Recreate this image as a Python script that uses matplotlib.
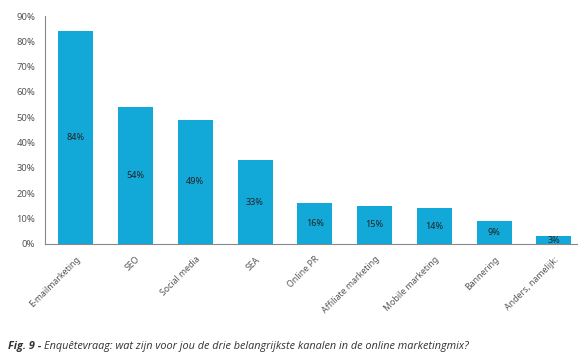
import matplotlib
matplotlib.use("Agg")
import matplotlib.pyplot as plt

categories = ["E-mailmarketing", "SEO", "Social media", "SEA", "Online PR",
              "Affiliate marketing", "Mobile marketing", "Bannering", "Anders, namelijk:"]
values = [84, 54, 49, 33, 16, 15, 14, 9, 3]
yticks = [0, 10, 20, 30, 40, 50, 60, 70, 80, 90]

bar_color = "#12a9d9"
grey = "#555555"

plt.rcParams['font.family'] = ['Noto Sans', 'DejaVu Sans']

fig = plt.figure(figsize=(5.79, 3.56), dpi=100)
ax = fig.add_axes([0.078, 0.315, 0.919, 0.64])

x = list(range(len(values)))
bars = ax.bar(x, values, width=0.585, color=bar_color)

# labels in the middle of each bar
for xi, v in zip(x, values):
    ax.text(xi, v / 2, f"{v}%", ha="center", va="center", fontsize=6.5, color="#222222")

ax.set_xlim(-0.51, 8.39)
ax.set_ylim(0, 90)
ax.set_yticks(yticks)
ax.set_yticklabels([f"{t}%" for t in yticks], fontsize=6.8, color=grey)
ax.set_xticks(x)
ax.set_xticklabels(categories, rotation=45, ha="right", rotation_mode="anchor",
                   fontsize=6.3, color=grey)
ax.tick_params(axis="y", length=0, pad=7)
ax.tick_params(axis="x", length=0, pad=8)

for s in ["top", "right"]:
    ax.spines[s].set_visible(False)
for s in ["left", "bottom"]:
    ax.spines[s].set_color("#888888")
    ax.spines[s].set_linewidth(0.8)

# caption: bold part, then the rest right after it
cap_font = ['Open Sans', 'DejaVu Sans']
t1 = fig.text(0.014, 0.02, "Fig. 9 -", fontsize=7.8, style="italic", fontweight="bold",
              color="#333333", family=cap_font)
fig.canvas.draw()
bb = t1.get_window_extent()
x2 = (bb.x1 + 3) / fig.bbox.width
fig.text(x2, 0.02, "Enquêtevraag: wat zijn voor jou de drie belangrijkste kanalen in de online marketingmix?",
         fontsize=7.8, style="italic", color="#333333", family=cap_font)

fig.savefig("out.png", dpi=100)
